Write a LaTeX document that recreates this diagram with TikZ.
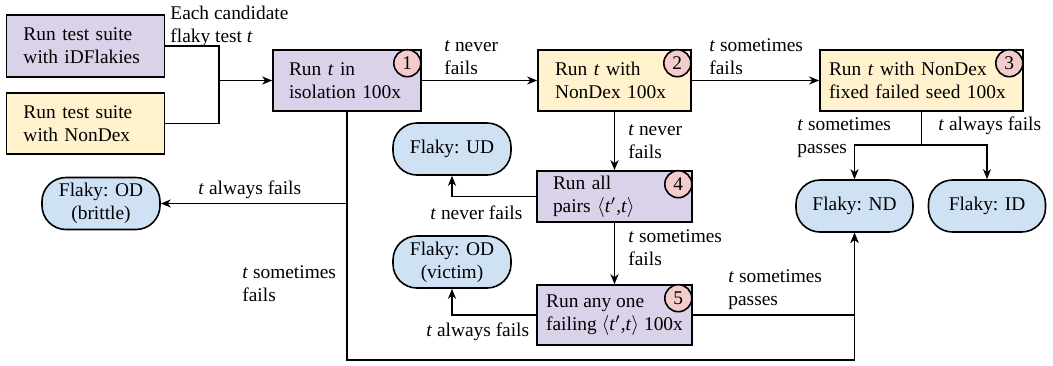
\documentclass[tikz,border=0pt]{standalone}
\usepackage{fontspec}
\setmainfont{Liberation Serif}
\usetikzlibrary{arrows.meta}
\definecolor{cpurple}{HTML}{D9D2E9}
\definecolor{cyellow}{HTML}{FFF2CC}
\definecolor{cblue}{HTML}{CFE2F3}
\definecolor{cpink}{HTML}{F4CCCC}
\newcommand{\tvar}{\textit{t}}
\newcommand{\tpair}{$\langle$\textit{t}$'$,\textit{t}$\rangle$}
\begin{document}
\begin{tikzpicture}[x=0.5pt,y=-0.5pt,
  every node/.style={font=\fontsize{9.7}{11.6}\selectfont},
  box/.style={draw,line width=0.8pt,rectangle,align=left,inner ysep=0pt},
  pbox/.style={box,fill=cpurple},
  ybox/.style={box,fill=cyellow},
  term/.style={draw,line width=0.8pt,rounded corners=12pt,fill=cblue,align=center,
    minimum width=59pt,minimum height=26pt,inner sep=0pt},
  num/.style={draw,line width=0.8pt,circle,fill=cpink,minimum size=13.5pt,inner sep=0pt},
  lab/.style={align=left,anchor=west,inner sep=0pt},
  conn/.style={line width=0.8pt},
  arr/.style={conn,-{Stealth[length=5pt,width=4pt,inset=1.5pt]}}
]
\useasboundingbox (0,0) rectangle (1053,365);

% boxes
\node[pbox,minimum height=31pt,inner xsep=8.5pt,text width=62pt] (A) at (85.5,46) {Run test suite\\with iDFlakies};
\node[ybox,minimum height=30.5pt,inner xsep=8.5pt,text width=62pt] (B) at (85.5,123.5) {Run test suite\\with NonDex};
\node[pbox,minimum height=30.5pt,inner xsep=8pt,text width=58pt] (b1) at (347,80.5) {Run \tvar{} in\\isolation 100x};
\node[ybox,minimum height=30.5pt,inner xsep=8.5pt,text width=59.5pt] (b2) at (614.5,80.5) {Run \tvar{} with\\NonDex 100x};
\node[ybox,minimum height=30.5pt,inner xsep=4.5pt,text width=92.5pt] (b3) at (921.5,80.5) {Run \tvar{} with NonDex\\fixed failed seed 100x};
\node[pbox,minimum height=25.5pt,inner xsep=8pt,text width=61.5pt] (b4) at (614.5,196.5) {Run all\\pairs \tpair};
\node[pbox,minimum height=30pt,minimum width=77.5pt,inner xsep=0pt] (b5) at (614.5,315) {Run any one\\failing \tpair{} 100x};

% numbers
\node[num] (n1) at ([xshift=-7.25pt,yshift=-7pt]b1.north east) {1};
\node[num] (n2) at ([xshift=-7.25pt,yshift=-7pt]b2.north east) {2};
\node[num] (n3) at ([xshift=-7.25pt,yshift=-7pt]b3.north east) {3};
\node[num] (n4) at ([xshift=-7.25pt,yshift=-7pt]b4.north east) {4};
\node[num] (n5) at ([xshift=-7.25pt,yshift=-7pt]b5.north east) {5};

% terminals
\node[term] (UD) at (452,149) {Flaky: UD};
\node[term] (VI) at (452,262) {Flaky: OD\\(victim)};
\node[term] (BR) at (101,203.5) {Flaky: OD\\(brittle)};
\node[term,minimum width=58.5pt] (ND) at (854.5,206) {Flaky: ND};
\node[term,minimum width=58.5pt] (ID) at (987,206) {Flaky: ID};

% connectors
\coordinate (j) at (219,80.5);
\draw[conn] (A.east) -| (j);
\draw[conn] (B.east) -| (j);
\draw[arr] (j) -- (b1.west);
\draw[arr] (b1.east) -- (b2.west);
\draw[arr] (b2.east) -- (b3.west);
\coordinate (s3) at (921.5,145);
\draw[arr] (b3.south) -- (s3) -| (ND.north);
\draw[arr] (s3) -| (ID.north);
\draw[arr] (b2.south) -- (b4.north);
\draw[arr] (b4.west) -| (UD.south);
\draw[arr] (b4.south) -- (b5.north);
\draw[arr] (b5.west) -| (VI.south);
\draw[arr] (b5.east) -| (ND.south);
\coordinate (bot) at (347,360);
\draw[arr] (b1.south) -- (bot) -| (ND.south);
\coordinate (br) at (347,203.5);
\draw[arr] (br) -- (BR.east);

% labels
\node[lab] (l0) at (170,26) {Each candidate\\flaky test \tvar};
\node[lab] (l1) at (444,58) {\tvar{} never\\fails};
\node[lab] (l2) at (709,57) {\tvar{} sometimes\\fails};
\node[lab] (l3) at (797,138) {\tvar{} sometimes\\passes};
\node[lab] (l4) at (938,126) {\tvar{} always fails};
\node[lab] (l5) at (628,142) {\tvar{} never\\fails};
\node[lab] (l6) at (430,213) {\tvar{} never fails};
\node[lab] (l7) at (628,248) {\tvar{} sometimes\\fails};
\node[lab] (l8) at (426,332) {\tvar{} always fails};
\node[lab] (l9) at (728,290) {\tvar{} sometimes\\passes};
\node[lab] (l10) at (198,190) {\tvar{} always fails};
\node[lab] (l11) at (242,284) {\tvar{} sometimes\\fails};
\end{tikzpicture}
\end{document}
